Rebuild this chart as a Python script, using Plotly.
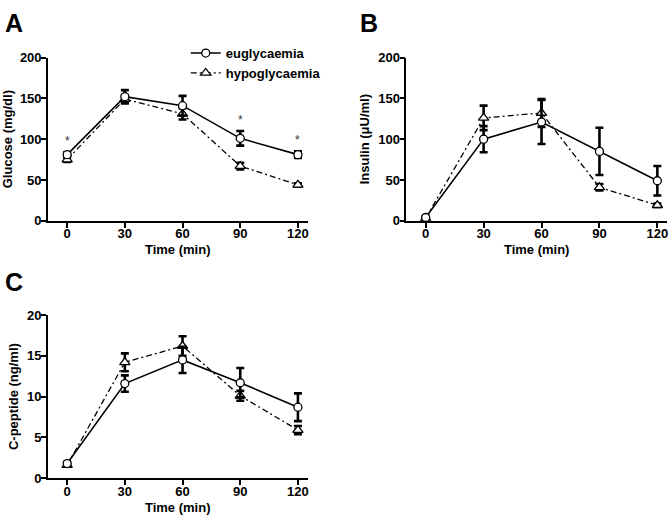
import plotly.graph_objects as go

time = [0, 30, 60, 90, 120]

glu_eu = [81, 152, 141, 101, 81]
glu_eu_err = [3, 8, 12, 9, 4]
glu_hy = [75, 149, 131, 67, 44]
glu_hy_err = [3, 5, 7, 4, 2]
glu_sig = [0, 90, 120]

ins_eu = [4, 100, 121, 85, 49]
ins_eu_err = [2, 16, 27, 29, 18]
ins_hy = [3, 126, 132, 41, 19]
ins_hy_err = [1, 15, 17, 4, 2]

cp_eu = [1.8, 11.6, 14.5, 11.7, 8.7]
cp_eu_err = [0.2, 1.0, 1.6, 1.8, 1.7]
cp_hy = [1.6, 14.2, 16.2, 10.1, 5.9]
cp_hy_err = [0.2, 1.1, 1.2, 0.6, 0.5]

W, H = 672, 528
FONT = "Liberation Sans, Arial, sans-serif"

fig = go.Figure()

def add_pair(eu, eu_err, hy, hy_err, xa, ya, show):
    fig.add_trace(go.Scatter(
        x=time, y=hy, name="hypoglycaemia", xaxis=xa, yaxis=ya,
        mode="lines+markers", showlegend=show,
        line=dict(color="black", width=1.3, dash="6px,3px,2px,3px"),
        marker=dict(symbol="triangle-up", size=9, color="white",
                    line=dict(color="black", width=1.3)),
        error_y=dict(type="data", array=hy_err, color="black", thickness=2.6, width=4),
    ))
    fig.add_trace(go.Scatter(
        x=time, y=eu, name="euglycaemia", xaxis=xa, yaxis=ya,
        mode="lines+markers", showlegend=show,
        line=dict(color="black", width=1.6),
        marker=dict(symbol="circle", size=8, color="white",
                    line=dict(color="black", width=1.3)),
        error_y=dict(type="data", array=eu_err, color="black", thickness=2.6, width=4),
    ))

add_pair(glu_eu, glu_eu_err, glu_hy, glu_hy_err, "x", "y", True)
add_pair(ins_eu, ins_eu_err, ins_hy, ins_hy_err, "x2", "y2", False)
add_pair(cp_eu, cp_eu_err, cp_hy, cp_hy_err, "x3", "y3", False)

def xd(a, b):
    return [a / W, b / W]

def yd(top, bottom):
    return [(H - bottom) / H, (H - top) / H]

axis_common = dict(showline=True, linecolor="black", linewidth=1.5, ticks="outside",
                   ticklen=5, tickwidth=1.5, tickcolor="black", showgrid=False,
                   zeroline=False, tickfont=dict(size=13, family=FONT, weight="bold"),
                   title_font=dict(size=13, family=FONT, weight="bold"))

xcommon = dict(axis_common, range=[-10, 125], tickvals=time, title_text="Time (min)",
               title_standoff=5, ticklabelstandoff=-5)
ycommon = dict(axis_common, ticklabelstandoff=-3, title_standoff=6)

fig.update_layout(
    width=W, height=H, margin=dict(l=0, r=0, t=0, b=0),
    paper_bgcolor="white", plot_bgcolor="white",
    font=dict(family=FONT, color="black", weight="bold"),
    xaxis=dict(xcommon, domain=xd(48, 308), anchor="y"),
    yaxis=dict(ycommon, domain=yd(52, 220), range=[0, 200], tickvals=[0, 50, 100, 150, 200],
               title_text="Glucose (mg/dl)", anchor="x"),
    xaxis2=dict(xcommon, domain=xd(407, 668), anchor="y2"),
    yaxis2=dict(ycommon, domain=yd(52, 220), range=[0, 200], tickvals=[0, 50, 100, 150, 200],
                title_text="Insulin (\u03bcU/ml)", anchor="x2"),
    xaxis3=dict(xcommon, domain=xd(48, 308), anchor="y3"),
    yaxis3=dict(ycommon, domain=yd(317, 485), range=[0, 20], tickvals=[0, 5, 10, 15, 20],
                title_text="C-peptide (ng/ml)", anchor="x3"),
    legend=dict(x=186 / W, y=(H - 32) / H, xanchor="left", yanchor="top",
                bgcolor="rgba(0,0,0,0)", traceorder="reversed", tracegroupgap=0,
                font=dict(size=13, family=FONT, weight="bold"), itemwidth=30),
    showlegend=True,
)

anns = []
for t in glu_sig:
    i = time.index(t)
    anns.append(dict(x=t, y=glu_eu[i] + glu_eu_err[i], xref="x", yref="y", text="*",
                     showarrow=False, yshift=11,
                     font=dict(size=12, family=FONT, color="#333", weight="normal")))

for label, px, py in [("A", 14, 16), ("B", 370, 16), ("C", 14, 283)]:
    anns.append(dict(x=px / W, y=(H - py) / H, xref="paper", yref="paper", text=label,
                     showarrow=False, xanchor="center", yanchor="middle",
                     font=dict(size=25, family=FONT, weight="bold")))

fig.update_layout(annotations=anns)

fig.write_html("out.html", config={"displayModeBar": False},
               post_script="document.body.style.margin='0';document.body.style.overflow='hidden';")
